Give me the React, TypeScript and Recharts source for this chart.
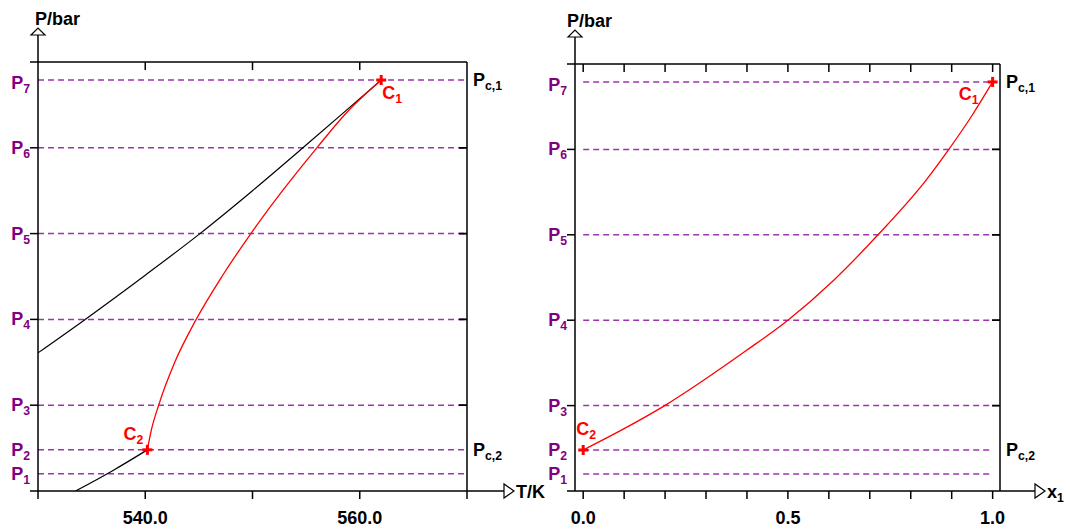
import React from "react";
import { ComposedChart, Line, XAxis, YAxis, ReferenceLine, ReferenceDot } from "recharts";

const FONT = "'Liberation Sans', Arial, Helvetica, sans-serif";
const PURPLE = "#800080";
const DASH = "#9b35ad";
const RED = "#ff0000";

// pressure levels P1..P7 on a 0..5 pressure scale (no numbers printed)
const P_LEVELS = [0.2, 0.48, 1, 2, 3, 4, 4.79];
const P_NAMES = ["1", "2", "3", "4", "5", "6", "7"];
const P_DOMAIN = [0, 5];
const P_TICKS_OUT = [0, 1, 2, 3, 4, 5];
const P_TICKS_IN = [1, 2, 3, 4];

// left panel: P against T
const T_DOMAIN = [530, 570];
const T_TICKS = [530, 540, 550, 560, 570];
const T_TOP_TICKS = [540, 550, 560];
const T_LABELS = [540, 560];

// critical locus P(T), red
const CRIT_T = [540.2, 540.55, 541.25, 542.75, 544.75, 547.15, 549.85, 552.8, 556.0, 558.7, 562.0];
const CRIT_P = [0.48, 0.7, 1.0, 1.5, 2.0, 2.5, 3.0, 3.5, 4.0, 4.4, 4.79];
// vapour pressure curve of component 1
const VAP1_T = [530, 534.4, 540, 545.1, 550, 554.7, 558.5, 562.0];
const VAP1_P = [1.61, 2.0, 2.515, 3.0, 3.5, 4.0, 4.41, 4.79];
// vapour pressure curve of component 2
const VAP2_T = [533.5, 537, 540.2];
const VAP2_P = [0, 0.24, 0.48];

// right panel: P against x1
const X_DOMAIN = [-0.02, 1.018];
const X_TICKS = [0, 0.1, 0.2, 0.3, 0.4, 0.5, 0.6, 0.7, 0.8, 0.9, 1.0];
const X_LABELS = [0, 0.5, 1];
const CRIT_X = [0, 0.1, 0.199, 0.295, 0.4, 0.5, 0.61, 0.72, 0.839, 0.893, 0.95, 1.0];
const CRIT_XP = [0.48, 0.73, 1.0, 1.3, 1.65, 2.0, 2.46, 3.0, 3.65, 4.0, 4.4, 4.79];

// critical points
const C1_T = 562.0;
const C2_T = 540.2;
const C1_X = 1.0;
const C2_X = 0.0;
const PC1 = 4.79;
const PC2 = 0.48;

const zip = (xs: number[], ps: number[]) => xs.map((x, i) => ({ x, P: ps[i] }));

const Sub = ({ main, sub, x, y, color, anchor = "start", size = 18 }: any) => (
  <text x={x} y={y} fill={color} fontFamily={FONT} fontWeight="bold" fontSize={size} textAnchor={anchor}>
    {main}
    <tspan fontSize={size * 0.68} dy={4}>
      {sub}
    </tspan>
  </text>
);

const Cross = ({ cx, cy }: any) => (
  <g>
    <line x1={cx - 5} x2={cx + 5} y1={cy} y2={cy} stroke={RED} strokeWidth={3} />
    <line x1={cx} x2={cx} y1={cy - 5} y2={cy + 5} stroke={RED} strokeWidth={3} />
  </g>
);

const noTick = () => <g />;

// short inward tick marks on the top and right frame edges
const TopTick = ({ cx, cy }: any) => <line x1={cx} x2={cx} y1={cy} y2={cy + 8} stroke="#000" strokeWidth={1.5} />;
const RightTick = ({ cx, cy }: any) => <line x1={cx} x2={cx - 8} y1={cy} y2={cy} stroke="#000" strokeWidth={1.5} />;

type CritPt = { x: number; P: number; sub: string; dx: number; dy: number; anchor: string };
type Curve = { data: { x: number; P: number }[]; color: string; w: number };

type PanelProps = {
  left: number;
  width: number;
  yAxisW: number;
  mTop: number;
  mRight: number;
  xDomain: number[];
  xTicks: number[];
  topTicks: number[];
  xLabels: number[];
  dashFrom: number;
  dashTo: number;
  curves: Curve[];
  crit: CritPt[];
  xName: string;
  xSub: string;
  pbarDx: number;
  arrowLen: number;
};

function Panel(p: PanelProps) {
  const xTick = (t: any) => {
    const v = t.payload.value;
    if (!p.xLabels.some((l) => Math.abs(l - v) < 1e-9)) return <g />;
    return (
      <text x={t.x} y={t.y} dy={23} textAnchor="middle" fontFamily={FONT} fontWeight="bold" fontSize={18} fill="#000">
        {v.toFixed(1)}
      </text>
    );
  };
  const ax = { xAxisId: "b", yAxisId: "l" } as const;
  return (
    <div style={{ position: "absolute", left: p.left, top: 0 }}>
      <ComposedChart width={p.width} height={531} margin={{ top: p.mTop, right: p.mRight, left: 0, bottom: 0 }}>
        <XAxis
          xAxisId="b"
          type="number"
          dataKey="x"
          domain={p.xDomain}
          ticks={p.xTicks}
          interval={0}
          allowDataOverflow
          height={40}
          tickSize={8}
          stroke="#000"
          strokeWidth={1.5}
          tick={xTick}
        />
        {/* top frame line */}
        <XAxis
          xAxisId="t"
          orientation="top"
          mirror
          type="number"
          domain={p.xDomain}
          ticks={p.topTicks}
          interval={0}
          allowDataOverflow
          tickSize={8}
          stroke="#000"
          strokeWidth={1.5}
          tick={noTick}
        />
        <YAxis
          yAxisId="l"
          type="number"
          domain={P_DOMAIN}
          ticks={P_TICKS_OUT}
          interval={0}
          allowDataOverflow
          width={p.yAxisW}
          tickSize={8}
          stroke="#000"
          strokeWidth={1.5}
          tick={noTick}
        />
        {/* right frame line */}
        <YAxis
          yAxisId="r"
          orientation="right"
          mirror
          type="number"
          domain={P_DOMAIN}
          ticks={P_TICKS_IN}
          interval={0}
          allowDataOverflow
          tickSize={8}
          stroke="#000"
          strokeWidth={1.5}
          tick={noTick}
        />
        {P_LEVELS.map((lv) => (
          <ReferenceLine
            key={"d" + lv}
            {...ax}
            segment={[
              { x: p.dashFrom, y: lv },
              { x: p.dashTo, y: lv },
            ]}
            stroke={DASH}
            strokeWidth={1.5}
            strokeDasharray="6 4"
            ifOverflow="visible"
          />
        ))}
        {p.curves.map((c, i) => (
          <Line
            key={"c" + i}
            {...ax}
            data={c.data}
            dataKey="P"
            type="monotone"
            stroke={c.color}
            strokeWidth={c.w}
            dot={false}
            activeDot={false}
            isAnimationActive={false}
          />
        ))}
        {p.topTicks.map((t) => (
          <ReferenceDot key={"tt" + t} {...ax} x={t} y={P_DOMAIN[1]} ifOverflow="visible" shape={TopTick} />
        ))}
        {P_TICKS_IN.map((t) => (
          <ReferenceDot key={"rt" + t} {...ax} x={p.xDomain[1]} y={t} ifOverflow="visible" shape={RightTick} />
        ))}
        {P_LEVELS.map((lv, i) => (
          <ReferenceDot
            key={"pl" + i}
            {...ax}
            x={p.xDomain[0]}
            y={lv}
            ifOverflow="visible"
            shape={(s: any) => (
              <Sub main="P" sub={P_NAMES[i]} x={s.cx - 8} y={s.cy + (i === 6 ? 9 : 6)} color={PURPLE} anchor="end" />
            )}
          />
        ))}
        {[
          { lv: PC1, sub: "c,1" },
          { lv: PC2, sub: "c,2" },
        ].map((c) => (
          <ReferenceDot
            key={"pc" + c.sub}
            {...ax}
            x={p.xDomain[1]}
            y={c.lv}
            ifOverflow="visible"
            shape={(s: any) => <Sub main="P" sub={c.sub} x={s.cx + 6} y={s.cy + 6} color="#000" />}
          />
        ))}
        {p.crit.map((c) => (
          <ReferenceDot
            key={"cr" + c.sub}
            {...ax}
            x={c.x}
            y={c.P}
            ifOverflow="visible"
            shape={(s: any) => (
              <g>
                <Cross cx={s.cx} cy={s.cy} />
                <Sub main="C" sub={c.sub} x={s.cx + c.dx} y={s.cy + c.dy} color={RED} anchor={c.anchor} size={18} />
              </g>
            )}
          />
        ))}
        <ReferenceDot
          {...ax}
          x={p.xDomain[0]}
          y={P_DOMAIN[1]}
          ifOverflow="visible"
          shape={(s: any) => (
            <g>
              <line x1={s.cx} x2={s.cx} y1={s.cy} y2={s.cy - 27} stroke="#000" strokeWidth={1.5} />
              <path
                d={`M${s.cx - 7},${s.cy - 27} L${s.cx + 7},${s.cy - 27} L${s.cx},${s.cy - 34} Z`}
                fill="#fff"
                stroke="#000"
                strokeWidth={1.2}
              />
              <text x={s.cx + p.pbarDx} y={s.cy - 37} fontFamily={FONT} fontWeight="bold" fontSize={18} fill="#000">
                P/bar
              </text>
            </g>
          )}
        />
        <ReferenceDot
          {...ax}
          x={p.xDomain[1]}
          y={P_DOMAIN[0]}
          ifOverflow="visible"
          shape={(s: any) => (
            <g>
              <line x1={s.cx} x2={s.cx + p.arrowLen} y1={s.cy} y2={s.cy} stroke="#000" strokeWidth={1.5} />
              <path
                d={`M${s.cx + p.arrowLen},${s.cy - 7} L${s.cx + p.arrowLen},${s.cy + 7} L${s.cx + p.arrowLen + 10},${s.cy} Z`}
                fill="#fff"
                stroke="#000"
                strokeWidth={1.2}
              />
              <Sub main={p.xName} sub={p.xSub} x={s.cx + p.arrowLen + 12} y={s.cy + 7} color="#000" />
            </g>
          )}
        />
      </ComposedChart>
    </div>
  );
}

export default function App() {
  return (
    <div style={{ position: "absolute", left: 0, top: 0, width: 1070, height: 531, background: "#fff" }}>
      <Panel
        left={540}
        width={530}
        yAxisW={35}
        mTop={64}
        mRight={70}
        xDomain={X_DOMAIN}
        xTicks={X_TICKS}
        topTicks={X_TICKS}
        xLabels={X_LABELS}
        dashFrom={0}
        dashTo={1}
        curves={[{ data: zip(CRIT_X, CRIT_XP), color: RED, w: 1.3 }]}
        crit={[
          { x: C1_X, P: PC1, sub: "1", dx: -14, dy: 18, anchor: "end" },
          { x: C2_X, P: PC2, sub: "2", dx: -7, dy: -15, anchor: "start" },
        ]}
        xName="x"
        xSub="1"
        pbarDx={-8}
        arrowLen={35}
      />
      <Panel
        left={0}
        width={550}
        yAxisW={38}
        mTop={62}
        mRight={83}
        xDomain={T_DOMAIN}
        xTicks={T_TICKS}
        topTicks={T_TOP_TICKS}
        xLabels={T_LABELS}
        dashFrom={T_DOMAIN[0]}
        dashTo={T_DOMAIN[1]}
        curves={[
          { data: zip(VAP1_T, VAP1_P), color: "#000", w: 1.2 },
          { data: zip(VAP2_T, VAP2_P), color: "#000", w: 1.2 },
          { data: zip(CRIT_T, CRIT_P), color: RED, w: 1.3 },
        ]}
        crit={[
          { x: C1_T, P: PC1, sub: "1", dx: 1, dy: 19, anchor: "start" },
          { x: C2_T, P: PC2, sub: "2", dx: -4, dy: -10, anchor: "end" },
        ]}
        xName="T/K"
        xSub=""
        pbarDx={-3}
        arrowLen={37}
      />
    </div>
  );
}
